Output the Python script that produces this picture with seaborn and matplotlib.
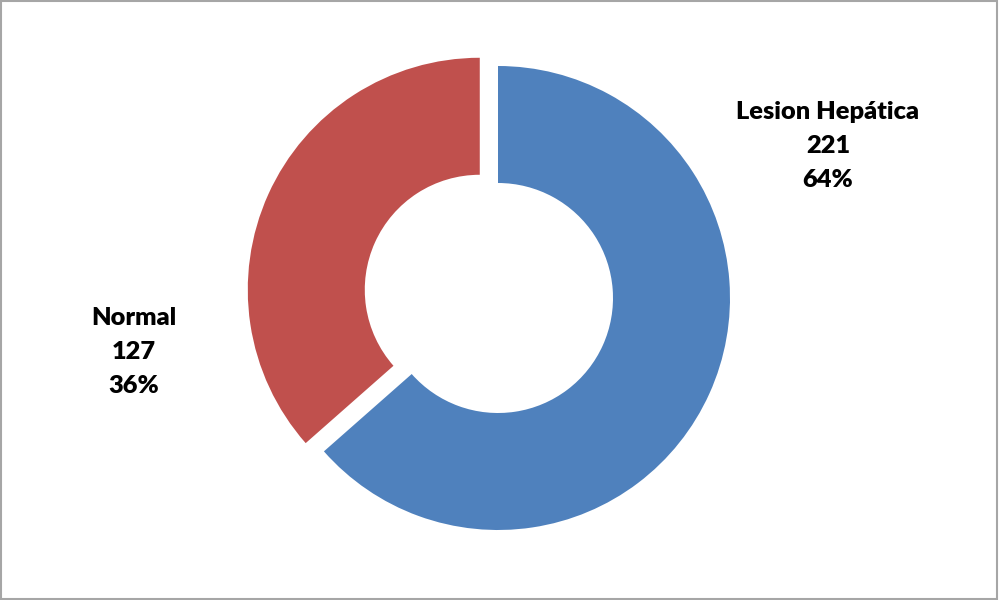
import matplotlib
matplotlib.use("Agg")
import matplotlib.pyplot as plt
import seaborn as sns
from matplotlib.patches import Rectangle

sns.set_theme(style="white")
plt.rcParams['font.family'] = ['Lato', 'DejaVu Sans']

categories = ["Lesion Hepática", "Normal"]
values = [221, 127]
colors = ["#4F81BD", "#C0504D"]
explode = [0.0, 20]

fig = plt.figure(figsize=(9.99, 6.0), dpi=100)
ax = fig.add_axes([0, 0, 1, 1])

ax.pie(values, colors=colors, explode=explode, startangle=90, counterclock=False,
       radius=232, center=(498, 302), frame=True,
       wedgeprops=dict(width=117, edgecolor='none', linewidth=0))
ax.set_xlim(0, 999)
ax.set_ylim(0, 600)
ax.set_aspect('equal')
ax.axis('off')

total = sum(values)
label_pos = [(828, 454), (134, 248)]
for cat, v, (x, y) in zip(categories, values, label_pos):
    pct = round(100 * v / total)
    ax.text(x, y, f"{cat}\n{v}\n{pct}%", ha='center', va='center',
            fontsize=18.3, fontweight='heavy', color='black', linespacing=1.65)

fig.patches.append(Rectangle((0.001, 0.001), 0.997, 0.997, transform=fig.transFigure,
                             fill=False, edgecolor='#A6A6A6', linewidth=1.5))
fig.savefig("out.png", dpi=100, facecolor='white')
